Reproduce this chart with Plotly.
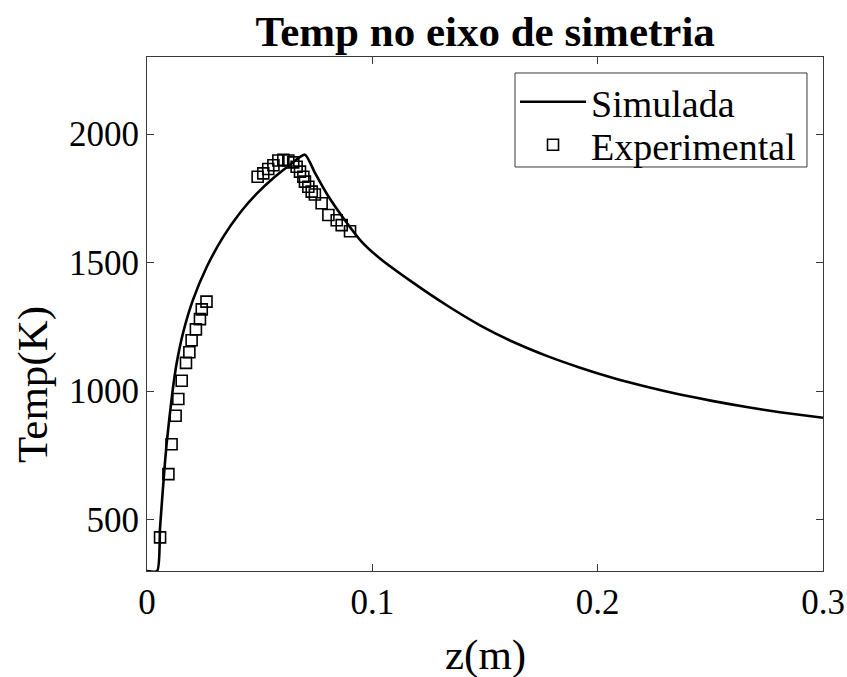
import plotly.graph_objects as go

# Simulated curve
sim_z = [0.0, 0.0045, 0.0058, 0.0075, 0.0087, 0.0112, 0.0132, 0.0161, 0.0204, 0.0265,
         0.0339, 0.0413, 0.0487, 0.0561, 0.0635, 0.0701, 0.0746, 0.0797, 0.0879, 0.0953,
         0.1034, 0.1182, 0.133, 0.1478, 0.1626, 0.1774, 0.1922, 0.2069, 0.2217, 0.2365,
         0.2513, 0.2661, 0.2809, 0.3]
sim_T = [300, 300, 470, 670, 795, 990, 1110, 1230, 1355, 1483,
         1601, 1694, 1768, 1829, 1881, 1920, 1848, 1769, 1664, 1581,
         1516, 1421, 1334, 1256, 1191, 1137, 1091, 1051, 1017, 987,
         961, 938, 918, 896]

# Experimental points
exp_z = [0.0058, 0.0095, 0.0109, 0.0127, 0.0139, 0.0154, 0.0173, 0.0188, 0.0198, 0.0217,
         0.0235, 0.0243, 0.0264,
         0.0491, 0.0516, 0.0538, 0.0561, 0.0583, 0.0605, 0.0627, 0.0649, 0.0664, 0.0679,
         0.0694, 0.0701, 0.0716, 0.0731, 0.0745, 0.0775, 0.0805, 0.0842, 0.0864, 0.0901]
exp_T = [431, 677, 793, 904, 969, 1040, 1110, 1151, 1198, 1240,
         1280, 1318, 1348,
         1834, 1847, 1864, 1879, 1897, 1900, 1897, 1890, 1873, 1854,
         1834, 1815, 1795, 1776, 1765, 1731, 1685, 1665, 1646, 1622]

x_ticks = [0, 0.1, 0.2, 0.3]
x_ticklabels = ["0", "0.1", "0.2", "0.3"]
y_ticks = [500, 1000, 1500, 2000]

FONT = "Liberation Serif"
AX = "#3a3a3a"

fig = go.Figure()
fig.add_trace(go.Scatter(x=sim_z, y=sim_T, mode="lines", name="Simulada", legend="legend",
                         line=dict(color="black", width=2.6, shape="spline", smoothing=0.6)))
fig.add_trace(go.Scatter(x=exp_z, y=exp_T, mode="markers", name="Experimental", legend="legend2",
                         marker=dict(symbol="square-open", size=11, color="black",
                                     line=dict(width=1.6, color="black"))))

leg_common = dict(xanchor="left", yanchor="middle", borderwidth=0,
                  bgcolor="rgba(0,0,0,0)", itemwidth=66,
                  font=dict(family=FONT, size=38, color="black"))

fig.update_layout(
    template="none",
    width=847, height=677,
    margin=dict(l=147, r=24, t=57, b=106),
    paper_bgcolor="white", plot_bgcolor="white",
    font=dict(family=FONT, color="black", size=35),
    title=dict(text="<b>Temp no eixo de simetria</b>", x=0.5728, xanchor="center",
               y=0.955, yanchor="middle", font=dict(family=FONT, size=43, color="black")),
    showlegend=True,
    legend=dict(x=0.5444, y=0.9125, **leg_common),
    legend2=dict(x=0.5444, y=0.8288, **leg_common),
    shapes=[dict(type="rect", xref="paper", yref="paper", x0=0.5444, x1=0.9763,
                 y0=0.786, y1=0.9689, line=dict(color=AX, width=1),
                 fillcolor="white", layer="above")],
    annotations=[
        dict(text="z(m)", xref="paper", yref="paper", x=0.5, y=-0.1634,
             xanchor="center", yanchor="middle", showarrow=False,
             font=dict(family=FONT, size=43, color="black")),
        dict(text="Temp(K)", xref="paper", yref="paper", x=-0.1686, y=0.362,
             xanchor="center", yanchor="middle", showarrow=False, textangle=-90,
             font=dict(family=FONT, size=43, color="black")),
    ],
)
fig.update_xaxes(range=[0, 0.3], tickvals=x_ticks, ticktext=x_ticklabels,
                 showline=True, linecolor=AX, linewidth=1, mirror="ticks",
                 ticks="inside", ticklen=7, tickcolor=AX, showgrid=False, zeroline=False,
                 automargin=False,
                 tickfont=dict(family=FONT, size=35, color="black"))
fig.update_yaxes(range=[300, 2300], tickvals=y_ticks,
                 showline=True, linecolor=AX, linewidth=1, mirror="ticks",
                 ticks="inside", ticklen=7, tickcolor=AX, showgrid=False, zeroline=False,
                 automargin=False,
                 tickfont=dict(family=FONT, size=35, color="black"))

fig.write_html("out.html")
